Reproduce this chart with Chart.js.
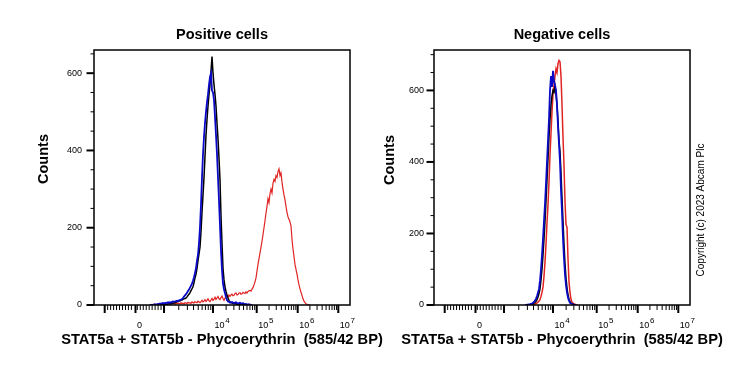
<!DOCTYPE html>
<html><head><meta charset="utf-8">
<script src="https://cdn.jsdelivr.net/npm/chart.js@4"></script>
<style>
html,body{margin:0;padding:0;background:#fff;}
#wrap{position:relative;width:739px;height:370px;overflow:hidden;background:#fff;}
canvas{position:absolute;top:0;left:0;}
</style></head><body>
<div id="wrap">
<canvas id="c1" width="739" height="370"></canvas>
<canvas id="c2" width="739" height="370"></canvas>
</div>
<script>
// ---------- axis definitions (x in histogram channels 0..256) ----------
const xMin = 0, xMax = 256;
const xMajorTicks = [10.7, 41.5, 70, 119, 162.7, 203.7, 244.3];   // -10^3, 0, 10^3, 10^4, 10^5, 10^6, 10^7
const xMajorLabels = ['', '0', '', '10^4', '10^5', '10^6', '10^7'];
const yLabelStep = 200, yMinorStep = 50;
const posYMax = 660, negYMax = 713;
const xTitle = 'STAT5a + STAT5b - Phycoerythrin  (585/42 BP)';
const titles = ['Positive cells', 'Negative cells'];

// ---------- Positive cells: counts per channel, starting channel ----------
const posBlackStart = 66;
const posBlack = [0,0,0,1,1,1,2,2,2,3,3,3,4,5,5,6,7,8,9,10,11,12,13,15,16,17,
  18,21,25,28,32,37,42,47,58,70,80,95,115,132,150,190,240,285,330,385,440,480,515,545,570,
  605,643,600,570,545,515,470,430,380,324,230,160,95,65,47,35,25,18,12,8,6,5,4,4,3,3,2,2,1,1,
  1,0,1,0,0,0];
const posBlueStart = 56;
const posBlue = [0,0,1,0,1,2,1,2,3,2,4,3,4,5,4,5,6,5,7,6,7,6,8,9,8,9,10,11,10,12,
  13,14,15,18,22,25,28,32,36,40,45,50,55,63,72,83,95,115,130,160,202,260,330,390,435,
  471,500,525,545,570,590,600,555,550,530,487,440,390,330,270,205,140,90,55,40,31,20,13,9,8,
  6,7,8,6,5,6,7,5,4,5,6,4,3,5,3,2,3,2,1,2,1,0,0];
const posRedStart = 56;
const posRed = [0,1,0,1,2,1,0,2,1,3,2,1,3,2,4,2,3,1,3,4,
  3,2,4,3,5,2,4,3,5,4,3,6,4,5,3,6,5,4,7,5,6,4,8,6,5,9,7,6,10,8,
  6,9,12,8,10,14,9,12,16,11,9,13,17,12,15,20,14,18,22,16,14,19,23,17,12,18,21,25,20,26,
  22,26,28,24,25,30,31,26,27,31,32,28,29,33,31,30,34,31,35,37,
  38,36,41,45,52,60,70,88,105,120,
  135,150,165,182,200,218,238,255,275,265,288,300,290,315,325,320,335,330,345,352,
  335,342,318,300,285,272,255,240,228,222,
  215,205,170,145,125,105,92,80,65,52,42,33,25,16,10,6,3,2,1,0,0];

// ---------- Negative cells ----------
const negBlueStart = 91;
const negBlue = [0,0,1,1,2,2,3,4,6,9,12,18,25,35,45,68,100,140,185,235,283,340,400,460,520,
  600,640,610,655,625,615,600,560,500,450,400,320,260,185,130,85,55,35,20,12,6,4,3,2,1,0,0];
const negBlackStart = 94;
const negBlack = [0,1,1,2,2,3,5,7,10,15,22,32,45,70,100,140,185,235,290,350,410,470,520,560,585,
  600,595,612,590,560,515,460,430,370,300,235,170,115,75,48,28,16,9,5,3,2,1,0,0];
const negRedStart = 98;
const negRed = [0,1,2,3,4,6,8,11,15,24,35,50,80,120,170,230,280,345,420,480,540,590,615,640,660,
  650,675,684,680,640,560,470,390,290,225,218,130,65,35,16,8,5,3,2,1,0,0];

// ---------- drawing ----------
const FONT = 'Arial, "Liberation Sans", Helvetica, sans-serif';
const COL = {black: '#000000', blue: '#0a0ac8', red: '#e02424'};

function xTickList() {
  const list = xMajorTicks.map(c => ({c, major: true}));
  const a0 = xMajorTicks[0], a2 = xMajorTicks[2];
  for (let k = 1; k < 20; k++) if (k !== 10) list.push({c: a0 + (a2 - a0) * k / 20, major: false});
  for (let i = 2; i < xMajorTicks.length; i++) {
    const lo = xMajorTicks[i];
    const hi = i + 1 < xMajorTicks.length ? xMajorTicks[i + 1] : lo + (lo - xMajorTicks[i - 1]);
    for (let k = 2; k <= 9; k++) list.push({c: lo + Math.log10(k) * (hi - lo), major: false});
  }
  return list;
}

const decor = {
  id: 'decor',
  afterDraw(chart, args, opts) {
    const {ctx, chartArea: a, scales: {x, y}} = chart;
    ctx.save();
    ctx.strokeStyle = '#000';
    ctx.fillStyle = '#000';
    ctx.lineWidth = 1.5;
    ctx.strokeRect(a.left, a.top, a.right - a.left, a.bottom - a.top);
    for (let v = 0; v <= y.max; v += yMinorStep) {
      const py = y.getPixelForValue(v);
      const major = v % yLabelStep === 0;
      ctx.lineWidth = major ? 2 : 1;
      ctx.beginPath(); ctx.moveTo(a.left, py); ctx.lineTo(a.left - (major ? 7.5 : 3.5), py); ctx.stroke();
    }
    xTickList().forEach(t => {
      if (t.c < xMin || t.c > xMax) return;
      const px = x.getPixelForValue(t.c);
      ctx.lineWidth = t.major ? 2 : 1;
      ctx.beginPath(); ctx.moveTo(px, a.bottom); ctx.lineTo(px, a.bottom + (t.major ? 8 : 5)); ctx.stroke();
    });
    ctx.textAlign = 'left'; ctx.textBaseline = 'alphabetic';
    xMajorTicks.forEach((c, i) => {
      const lab = xMajorLabels[i]; if (!lab) return;
      const px = x.getPixelForValue(c) + 1.5;
      const parts = lab.split('^');
      ctx.font = '9px ' + FONT;
      ctx.fillText(parts[0], px, a.bottom + 23);
      if (parts[1]) {
        const w = ctx.measureText(parts[0]).width;
        ctx.font = '8px ' + FONT;
        ctx.fillText(parts[1], px + w + 0.8, a.bottom + 17.5);
      }
    });
    // x axis title (drawn without width compression)
    ctx.font = 'bold 14.7px ' + FONT;
    ctx.textAlign = 'center'; ctx.textBaseline = 'middle';
    ctx.fillText(xTitle, (a.left + a.right) / 2, 340);
    // y axis title
    ctx.save();
    ctx.font = 'bold 14.5px ' + FONT;
    ctx.textAlign = 'center'; ctx.textBaseline = 'middle';
    ctx.translate(opts.countsX, opts.countsY); ctx.rotate(-Math.PI / 2);
    ctx.fillText('Counts', 0, 0);
    ctx.restore();
    if (opts.copyright) {
      ctx.save();
      ctx.font = '10px ' + FONT;
      ctx.textAlign = 'center'; ctx.textBaseline = 'middle';
      ctx.translate(opts.copyX, opts.copyY); ctx.rotate(-Math.PI / 2);
      ctx.fillText(opts.copyright, 0, 0);
      ctx.restore();
    }
    ctx.restore();
  }
};

function makeChart(canvas, title, series, yMax, cfg) {
  return new Chart(canvas, {
    type: 'line',
    data: {datasets: series.map(s => ({
      data: s.counts.map((v, i) => ({x: s.start + i, y: v})),
      borderColor: s.color, borderWidth: s.width, pointRadius: 0, tension: 0,
      fill: false, order: s.order
    }))},
    options: {
      responsive: false, animation: false, devicePixelRatio: 1,
      layout: {padding: {left: 0, right: cfg.padRight, top: 0, bottom: 0}},
      plugins: {
        legend: {display: false}, tooltip: {enabled: false},
        title: {display: true, text: title, fullSize: false, color: '#000',
          font: {family: FONT, size: 14.5, weight: 'bold', lineHeight: 1.2},
          padding: {top: 26.3, bottom: 6.3}},
        decor: cfg.decor
      },
      scales: {
        x: {type: 'linear', min: xMin, max: xMax,
          afterFit: s => { s.height = 65; },
          grid: {display: false, drawTicks: false}, border: {display: false},
          ticks: {display: false}},
        y: {type: 'linear', min: 0, max: yMax,
          afterFit: s => { s.width = cfg.yWidth; },
          grid: {display: false, drawTicks: false}, border: {display: false},
          ticks: {stepSize: yLabelStep, includeBounds: false, padding: cfg.tickPad,
            color: '#000', font: {family: FONT, size: 9}}}
      }
    },
    plugins: [decor]
  });
}

makeChart(document.getElementById('c1'), titles[0], [
  {counts: posRed, start: posRedStart, color: COL.red, width: 1.2, order: 2},
  {counts: posBlack, start: posBlackStart, color: COL.black, width: 1.5, order: 1},
  {counts: posBlue, start: posBlueStart, color: COL.blue, width: 1.8, order: 0}
], posYMax, {padRight: 389, yWidth: 94, tickPad: 12, decor: {countsX: 44, countsY: 159}});

makeChart(document.getElementById('c2'), titles[1], [
  {counts: negRed, start: negRedStart, color: COL.red, width: 1.5, order: 2},
  {counts: negBlack, start: negBlackStart, color: COL.black, width: 1.5, order: 1},
  {counts: negBlue, start: negBlueStart, color: COL.blue, width: 1.8, order: 0}
], negYMax, {padRight: 49, yWidth: 434, tickPad: 10,
  decor: {countsX: 390, countsY: 160, copyright: 'Copyright (c) 2023 Abcam Plc', copyX: 701, copyY: 210}});
</script>
</body></html>
